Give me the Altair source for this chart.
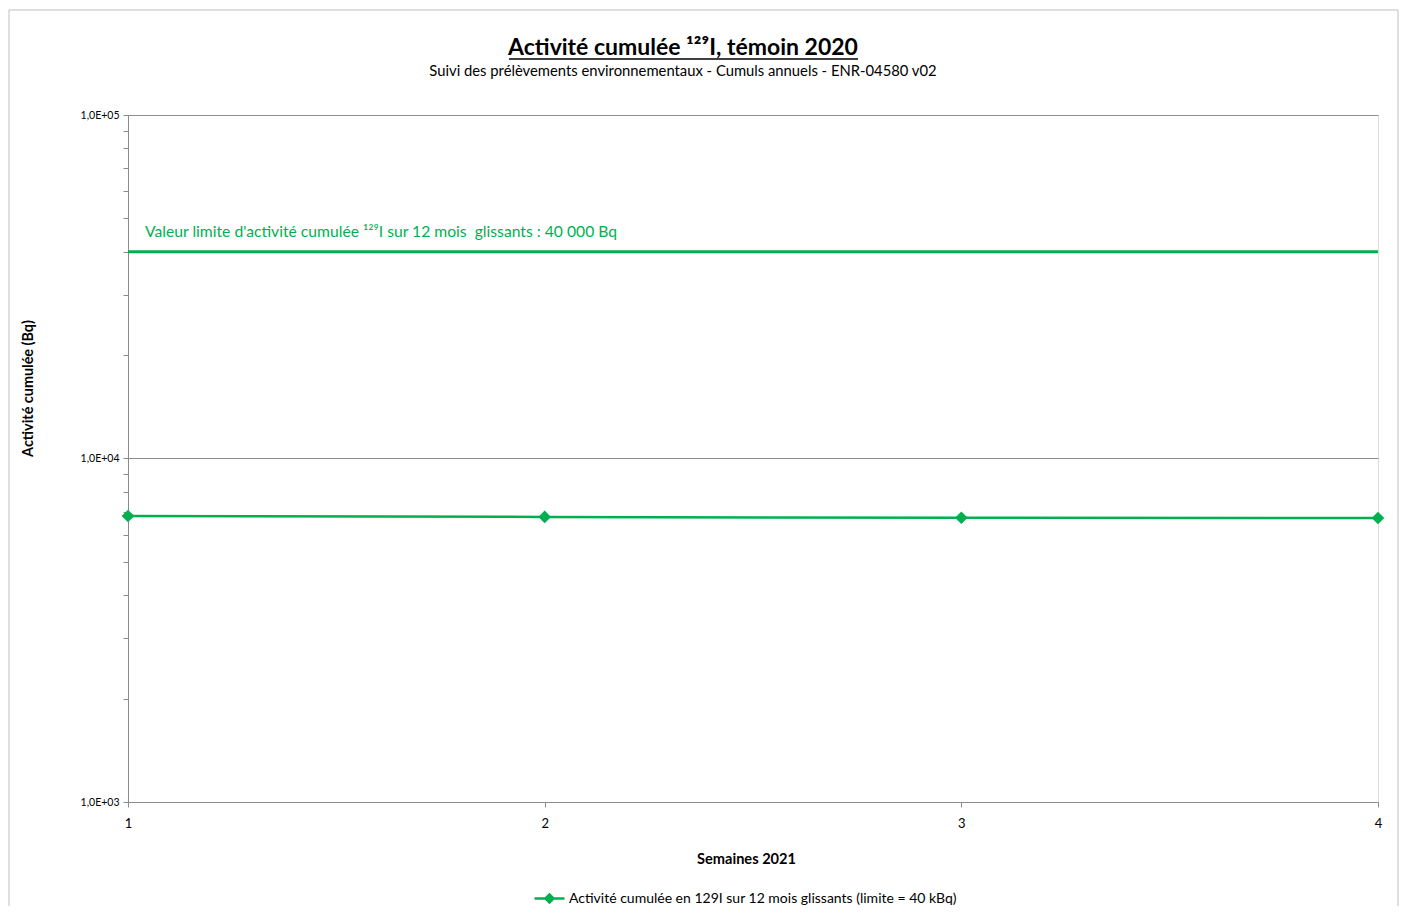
import altair as alt
import pandas as pd

# ---- data ----
semaines = [1, 2, 3, 4]
activite = [6800, 6760, 6720, 6710]
limite_x = [1, 4]
limite_val = 40000
y_ticks = [1000, 2000, 3000, 4000, 5000, 6000, 7000, 8000, 9000,
           10000, 20000, 30000, 40000, 50000, 60000, 70000, 80000, 90000, 100000]
x_ticks = [1, 2, 3, 4]
serie_nom = "Activité cumulée en 129I sur 12 mois glissants (limite = 40 kBq)"
limite_texte = "Valeur limite d'activité cumulée ¹²⁹I sur 12 mois\u00a0 glissants : 40 000 Bq"
titre = "Activité cumulée ¹²⁹I, témoin 2020"
sous_titre = "Suivi des prélèvements environnementaux - Cumuls annuels - ENR-04580 v02"

GREEN = "#00B050"
FONT = "Lato"
W, H = 1250, 687

df = pd.DataFrame({"semaine": semaines, "activite": activite, "serie": [serie_nom] * len(semaines)})
df_lim = pd.DataFrame({"x": [limite_x[0]], "x2": [limite_x[1]], "y": [limite_val]})
df_txt = pd.DataFrame({"x": [limite_x[0]], "y": [limite_val], "t": [limite_texte]})

decades = "indexof([1000,10000,100000], datum.value) >= 0"

x_scale = alt.Scale(domain=[1, 4], nice=False, zero=False)
y_scale = alt.Scale(type="log", domain=[1000, 100000], nice=False)

x_axis = alt.Axis(values=x_ticks, format="d", title="Semaines 2021", grid=False,
                  tickSize=5, labelPadding=10, labelFontSize=13, titleFontSize=14.6,
                  titleFontWeight="bold", titlePadding=21, titleX=618,
                  labelFlush=False, domainColor="#8C8C8C",
                  tickColor="#8C8C8C", labelColor="#000000", titleColor="#000000",
                  labelFont=FONT, titleFont=FONT)
y_axis = alt.Axis(values=y_ticks,
                  labelExpr="datum.value == 1000 ? '1,0E+03' : datum.value == 10000 ? '1,0E+04' : datum.value == 100000 ? '1,0E+05' : ''",
                  title="Activité cumulée (Bq)", grid=True,
                  gridColor="#8C8C8C",
                  gridOpacity={"condition": {"test": decades, "value": 1}, "value": 0},
                  tickSize=5, labelPadding=4, labelFontSize=10.5, titleFontSize=14.4,
                  titleFontWeight="bold", titlePadding=45, titleY=273,
                  domainColor="#8C8C8C",
                  tickColor="#8C8C8C", labelColor="#000000", titleColor="#000000",
                  labelFont=FONT, titleFont=FONT)

serie = alt.Chart(df).mark_line(
    strokeWidth=2.5,
    point=alt.OverlayMarkDef(shape="diamond", size=160, filled=True, color=GREEN, opacity=1),
).encode(
    x=alt.X("semaine:Q", scale=x_scale, axis=x_axis),
    y=alt.Y("activite:Q", scale=y_scale, axis=y_axis),
    color=alt.Color("serie:N", scale=alt.Scale(range=[GREEN]),
                    legend=alt.Legend(title=None, orient="none", legendX=405, legendY=767,
                                      symbolType="M-1,0L1,0M-0.27,0L0,-0.27L0.27,0L0,0.27Z",
                                      symbolSize=900, symbolStrokeWidth=2.5,
                                      symbolFillColor=GREEN, symbolStrokeColor=GREEN,
                                      labelFontSize=14, labelFont=FONT, labelColor="#000000",
                                      labelLimit=0, labelOffset=3)),
)

limite = alt.Chart(df_lim).mark_rule(color=GREEN, strokeWidth=3).encode(
    x="x:Q", x2="x2:Q", y="y:Q")

texte = alt.Chart(df_txt).mark_text(color=GREEN, align="left", baseline="bottom",
                                    dx=17, dy=-12, fontSize=15.7, font=FONT).encode(
    x="x:Q", y="y:Q", text="t:N")

df_one = pd.DataFrame({"a": [0]})
titre_txt = alt.Chart(df_one).mark_text(align="center", baseline="alphabetic", fontSize=23,
                                        fontWeight="bold", font=FONT, color="#000000").encode(
    x=alt.value(555), y=alt.value(-60), text=alt.value(titre))
sous_titre_txt = alt.Chart(df_one).mark_text(align="center", baseline="alphabetic", fontSize=14.8,
                                             font=FONT, color="#000000").encode(
    x=alt.value(555), y=alt.value(-39), text=alt.value(sous_titre))

titre_souligne = alt.Chart(df_one).mark_rule(color="#000000", strokeWidth=1.5).encode(
    x=alt.value(381), x2=alt.value(730), y=alt.value(-56))

cadre = alt.Chart(df_one).mark_rect(fill=None, stroke="#BFBFBF", strokeWidth=1).encode(
    x=alt.value(-119), x2=alt.value(1270), y=alt.value(-105), y2=alt.value(820))

chart = alt.layer(cadre, serie, limite, texte, titre_txt, sous_titre_txt, titre_souligne).properties(
    width=W, height=H,
    padding={"left": 120, "top": 107, "right": 21, "bottom": 104},
    autosize=alt.AutoSizeParams(type="none"),
).configure_view(strokeOpacity=0, strokeWidth=0).configure(background="#FFFFFF")

chart.save("out.html", embed_options={"renderer": "svg", "actions": False})
